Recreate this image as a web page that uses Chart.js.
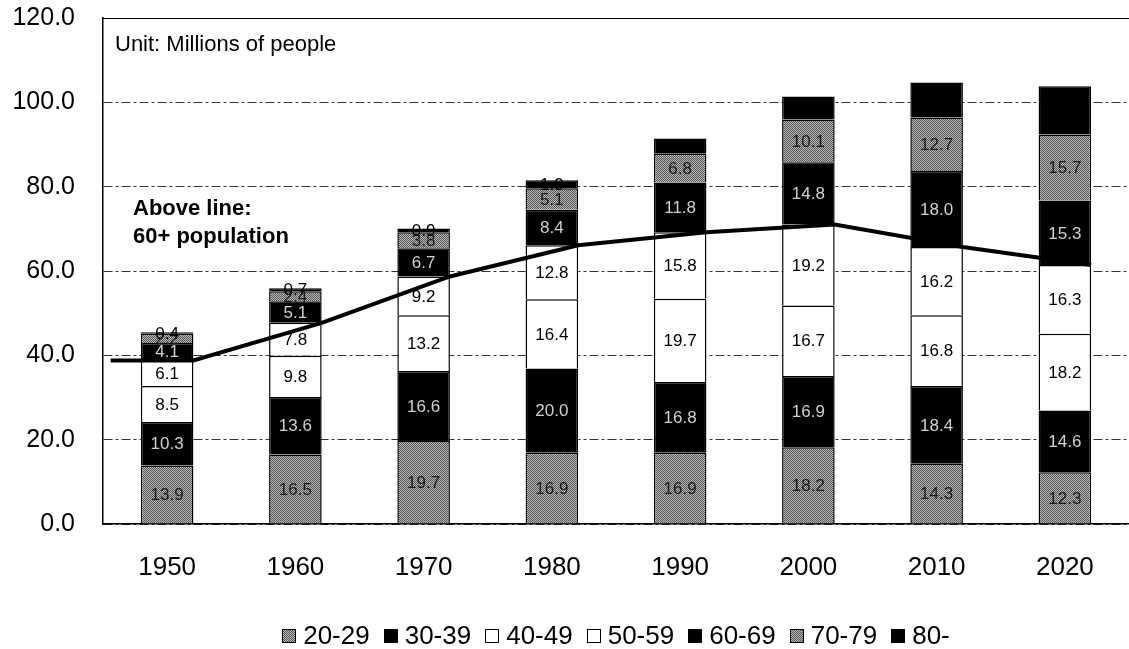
<!DOCTYPE html>
<html lang="en">
<head>
    <meta charset="UTF-8">
    <title>Population by age group</title>
    <script src="https://cdn.jsdelivr.net/npm/chart.js"></script>
    <style>
        html, body { margin: 0; padding: 0; background: #ffffff; }
        .chart-container { width: 1129px; height: 649px; position: relative; overflow: hidden; }
        #legend {
            position: absolute;
            top: 620px;
            display: flex;
            justify-content: center;
            align-items: center;
            font-family: "Liberation Sans", Arial, sans-serif;
            font-size: 26px;
            color: #000;
            white-space: nowrap;
        }
        #legend .item { display: flex; align-items: center; margin: 0 7px; }
        #legend .box { width: 14px; height: 14px; border: 1px solid #000; margin-right: 7px; box-sizing: border-box; }
        #legend .grey {
            background-image: repeating-conic-gradient(#555555 0 25%, #b8b8b8 0 50%);
            background-size: 2px 2px;
        }
    </style>
</head>
<body>
    <div class="chart-container">
        <canvas id="popChart"></canvas>
        <div id="legend"></div>
    </div>

    <script>
        // data (millions of people)
        const years = ['1950', '1960', '1970', '1980', '1990', '2000', '2010', '2020'];
        const age20s = [13.9, 16.5, 19.7, 16.9, 16.9, 18.2, 14.3, 12.3];
        const age30s = [10.3, 13.6, 16.6, 20.0, 16.8, 16.9, 18.4, 14.6];
        const age40s = [8.5, 9.8, 13.2, 16.4, 19.7, 16.7, 16.8, 18.2];
        const age50s = [6.1, 7.8, 9.2, 12.8, 15.8, 19.2, 16.2, 16.3];
        const age60s = [4.1, 5.1, 6.7, 8.4, 11.8, 14.8, 18.0, 15.3];
        const age70s = [2.2, 2.4, 3.8, 5.1, 6.8, 10.1, 12.7, 15.7];
        const age80s = [0.4, 0.7, 0.9, 1.9, 3.6, 5.5, 8.3, 11.4];
        // line: population aged 20-59
        const under60 = [38.8, 47.7, 58.7, 66.1, 69.2, 71.0, 65.7, 61.4];
        const yTicks = [0, 20, 40, 60, 80, 100, 120];

        const FONT = '"Liberation Sans", Arial, sans-serif';
        const BAR_PCT = 0.41;
        const LINE_SHIFT = BAR_PCT / 2;   // line points sit on the right edge of each bar
        const LEAD_X = -0.44;             // line starts just right of the y axis

        // halftone-like grey fill
        function makeGrey() {
            const c = document.createElement('canvas');
            c.width = 2; c.height = 2;
            const g = c.getContext('2d');
            g.fillStyle = '#b8b8b8';
            g.fillRect(0, 0, 2, 2);
            g.fillStyle = '#555555';
            g.fillRect(0, 0, 1, 1);
            g.fillRect(1, 1, 1, 1);
            return g.createPattern(c, 'repeat');
        }
        const grey = makeGrey();

        function barSet(label, data, fill, textColor) {
            return {
                type: 'bar',
                label: label,
                data: data,
                backgroundColor: fill,
                borderColor: '#000000',
                borderWidth: 1.5,
                barPercentage: BAR_PCT,
                categoryPercentage: 1.0,
                grouped: false,
                xAxisID: 'x',
                order: 1,
                textColor: textColor
            };
        }

        const lineData = [{ x: LEAD_X, y: under60[0] }].concat(
            under60.map((v, i) => ({ x: i + LINE_SHIFT, y: v }))
        );

        const labelPlugin = {
            id: 'segmentLabels',
            afterDatasetsDraw(chart) {
                const ctx = chart.ctx;
                ctx.save();
                ctx.font = '17px ' + FONT;
                ctx.textAlign = 'center';
                ctx.textBaseline = 'middle';
                chart.data.datasets.forEach((ds, di) => {
                    if (ds.type !== 'bar') return;
                    const meta = chart.getDatasetMeta(di);
                    meta.data.forEach((el, i) => {
                        ctx.fillStyle = ds.textColor;
                        ctx.fillText(ds.data[i].toFixed(1), el.x, (el.y + el.base) / 2 + 1);
                    });
                });
                ctx.restore();
            },
            afterDraw(chart) {
                const ctx = chart.ctx;
                const a = chart.chartArea;
                ctx.save();
                // solid frame line at the top
                ctx.strokeStyle = '#000000';
                ctx.lineWidth = 1;
                ctx.beginPath();
                ctx.moveTo(a.left, a.top + 0.5);
                ctx.lineTo(a.right, a.top + 0.5);
                ctx.stroke();
                ctx.fillStyle = '#000000';
                ctx.textAlign = 'left';
                ctx.textBaseline = 'middle';
                ctx.font = '22px ' + FONT;
                ctx.fillText('Unit: Millions of people', a.left + 12, a.top + 27);
                ctx.font = 'bold 22px ' + FONT;
                ctx.fillText('Above line:', a.left + 30, a.top + 191);
                ctx.fillText('60+ population', a.left + 30, a.top + 219);
                ctx.restore();
            }
        };

        const chart = new Chart(document.getElementById('popChart'), {
            data: {
                labels: years,
                datasets: [
                    {
                        type: 'line',
                        label: 'line',
                        data: lineData,
                        xAxisID: 'x2',
                        borderColor: '#000000',
                        borderWidth: 4,
                        pointRadius: 0,
                        tension: 0,
                        order: 0
                    },
                    barSet('20-29', age20s, grey, '#1a1a1a'),
                    barSet('30-39', age30s, '#000000', '#d0d0d0'),
                    barSet('40-49', age40s, '#ffffff', '#000000'),
                    barSet('50-59', age50s, '#ffffff', '#000000'),
                    barSet('60-69', age60s, '#000000', '#d0d0d0'),
                    barSet('70-79', age70s, grey, '#1a1a1a'),
                    barSet('80-', age80s, '#000000', '#000000')
                ]
            },
            options: {
                responsive: true,
                maintainAspectRatio: false,
                animation: false,
                layout: { padding: { left: 12, right: 0, top: 18, bottom: 67 } },
                scales: {
                    x: {
                        type: 'category',
                        stacked: true,
                        grid: { display: false, drawTicks: false },
                        border: { color: '#000000', width: 1.5 },
                        ticks: { color: '#000000', font: { family: FONT, size: 26 }, padding: 28 },
                        afterFit: (s) => { s.height = 58; }
                    },
                    x2: {
                        type: 'linear',
                        display: false,
                        min: -0.5,
                        max: years.length - 0.5
                    },
                    y: {
                        stacked: true,
                        min: 0,
                        max: 120,
                        afterBuildTicks: (s) => { s.ticks = yTicks.map(v => ({ value: v })); },
                        afterFit: (s) => { s.width = 91; s.paddingTop = 0; s.paddingBottom = 0; },
                        grid: { color: '#333333', drawTicks: false, lineWidth: 1 },
                        border: { color: '#000000', width: 1.5, dash: [9, 3, 3, 3] },
                        ticks: {
                            color: '#000000',
                            font: { family: FONT, size: 25 },
                            padding: 28,
                            callback: (v) => Number(v).toFixed(1)
                        }
                    }
                },
                plugins: {
                    legend: { display: false },
                    tooltip: { enabled: false }
                }
            },
            plugins: [labelPlugin]
        });

        // legend below the category labels, centred on the plot area
        const legendEl = document.getElementById('legend');
        chart.data.datasets.forEach((ds) => {
            if (ds.type !== 'bar') return;
            const item = document.createElement('span');
            item.className = 'item';
            const box = document.createElement('span');
            box.className = 'box';
            if (ds.backgroundColor === grey) box.classList.add('grey');
            else box.style.background = ds.backgroundColor;
            const txt = document.createElement('span');
            txt.textContent = ds.label;
            item.appendChild(box);
            item.appendChild(txt);
            legendEl.appendChild(item);
        });
        legendEl.style.left = chart.chartArea.left + 'px';
        legendEl.style.width = (chart.chartArea.right - chart.chartArea.left) + 'px';
    </script>
</body>
</html>
